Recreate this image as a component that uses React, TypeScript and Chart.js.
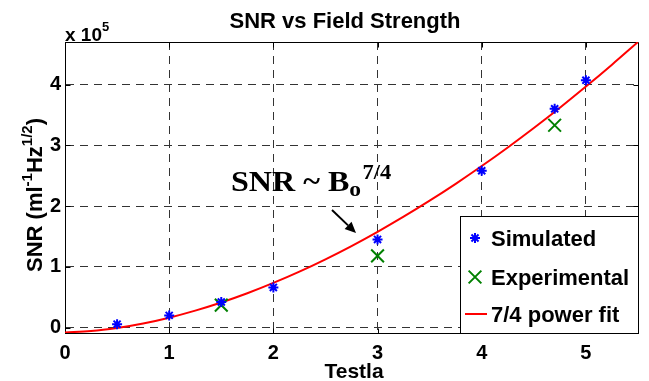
import React, { useEffect, useRef } from "react";
import { Chart, registerables } from "chart.js";

Chart.register(...registerables);

// values in units of 1e5
const simX = [0.5, 1, 1.5, 2, 3, 4, 4.7, 5];
const simY = [0.055, 0.2, 0.42, 0.66, 1.45, 2.58, 3.6, 4.07];
const expX = [1.5, 3, 4.7];
const expY = [0.37, 1.18, 3.33];
const fitX = [0, 0.25, 0.5, 0.75, 1, 1.25, 1.5, 1.75, 2, 2.25, 2.5, 2.75, 3, 3.25, 3.5, 3.75, 4, 4.25, 4.5, 4.75, 5, 5.25, 5.5];
const fitY = [-0.08, -0.059, -0.008, 0.066, 0.162, 0.278, 0.412, 0.564, 0.734, 0.92, 1.123, 1.341, 1.575, 1.824, 2.088, 2.366, 2.658, 2.964, 3.284, 3.618, 3.966, 4.327, 4.7];
const xTicks = [0, 1, 2, 3, 4, 5];
const yTicks = [0, 1, 2, 3, 4];
const seriesNames = ["Simulated", "Experimental", "7/4 power fit"];

const SANS = '"Liberation Sans", Arial, Helvetica, sans-serif';
const SERIF = '"Liberation Serif", "Times New Roman", serif';

type Part = { t: string; font: string; dy: number };

function drawParts(ctx: CanvasRenderingContext2D, parts: Part[], x: number, y: number, align: "left" | "center") {
  let total = 0;
  const widths = parts.map((p) => {
    ctx.font = p.font;
    const w = ctx.measureText(p.t).width;
    total += w;
    return w;
  });
  let cx = align === "center" ? x - total / 2 : x;
  ctx.textAlign = "left";
  ctx.textBaseline = "alphabetic";
  parts.forEach((p, i) => {
    ctx.font = p.font;
    ctx.fillText(p.t, cx, y + p.dy);
    cx += widths[i];
  });
}

function star(ctx: CanvasRenderingContext2D, x: number, y: number, r: number) {
  ctx.beginPath();
  for (let k = 0; k < 4; k++) {
    const a = (k * Math.PI) / 4;
    ctx.moveTo(x - Math.cos(a) * r, y - Math.sin(a) * r);
    ctx.lineTo(x + Math.cos(a) * r, y + Math.sin(a) * r);
  }
  ctx.stroke();
}

function crossRot(ctx: CanvasRenderingContext2D, x: number, y: number, r: number) {
  const d = r * Math.SQRT1_2;
  ctx.beginPath();
  ctx.moveTo(x - d, y - d);
  ctx.lineTo(x + d, y + d);
  ctx.moveTo(x + d, y - d);
  ctx.lineTo(x - d, y + d);
  ctx.stroke();
}

const decor = {
  id: "decor",
  beforeDatasetsDraw(chart: any) {
    const { ctx, chartArea: a, scales } = chart;
    ctx.save();
    ctx.strokeStyle = "#000";
    ctx.lineWidth = 1;
    const top = Math.round(a.top) + 0.5;
    const right = Math.round(a.right) + 0.5;
    const bottom = Math.round(a.bottom) + 0.5;
    const left = Math.round(a.left) + 0.5;
    ctx.beginPath();
    ctx.moveTo(left, top);
    ctx.lineTo(right, top);
    ctx.lineTo(right, bottom);
    ctx.stroke();
    const tl = 5;
    ctx.beginPath();
    xTicks.forEach((v) => {
      const px = Math.round(scales.x.getPixelForValue(v)) + 0.5;
      ctx.moveTo(px, bottom);
      ctx.lineTo(px, bottom - tl);
      ctx.moveTo(px, top);
      ctx.lineTo(px, top + tl);
    });
    yTicks.forEach((v) => {
      const py = Math.round(scales.y.getPixelForValue(v)) + 0.5;
      ctx.moveTo(left, py);
      ctx.lineTo(left + tl, py);
      ctx.moveTo(right, py);
      ctx.lineTo(right - tl, py);
    });
    ctx.stroke();
    ctx.restore();
  },
  afterDraw(chart: any) {
    const { ctx, chartArea: a } = chart;
    ctx.save();
    ctx.fillStyle = "#000";

    // title
    drawParts(ctx, [{ t: "SNR vs Field Strength", font: `bold 22px ${SANS}`, dy: 0 }], 345, 28, "center");

    // exponent label
    drawParts(
      ctx,
      [
        { t: "x 10", font: `bold 19px ${SANS}`, dy: 0 },
        { t: "5", font: `bold 13px ${SANS}`, dy: -10 },
      ],
      65,
      41,
      "left"
    );

    // x axis title
    drawParts(ctx, [{ t: "Testla", font: `bold 21px ${SANS}`, dy: 0 }], 354, 378, "center");

    // y axis title
    ctx.save();
    ctx.translate(42, 195);
    ctx.rotate(-Math.PI / 2);
    drawParts(
      ctx,
      [
        { t: "SNR (ml", font: `bold 22px ${SANS}`, dy: 0 },
        { t: "-1", font: `bold 15px ${SANS}`, dy: -10 },
        { t: "Hz", font: `bold 22px ${SANS}`, dy: 0 },
        { t: "1/2", font: `bold 15px ${SANS}`, dy: -10 },
        { t: ")", font: `bold 22px ${SANS}`, dy: 0 },
      ],
      0,
      0,
      "center"
    );
    ctx.restore();

    // annotation (slightly wide serif lettering)
    ctx.save();
    ctx.translate(231, 191);
    ctx.scale(1.07, 1);
    drawParts(
      ctx,
      [
        { t: "SNR ~ B", font: `bold 30px ${SERIF}`, dy: 0 },
        { t: "o", font: `bold 22px ${SERIF}`, dy: 5 },
        { t: " ", font: `bold 5px ${SERIF}`, dy: 0 },
        { t: "7/4", font: `bold 21px ${SERIF}`, dy: -12 },
      ],
      0,
      0,
      "left"
    );
    ctx.restore();

    // arrow
    const x1 = 332, y1 = 210, x2 = 356, y2 = 233;
    ctx.strokeStyle = "#000";
    ctx.lineWidth = 2;
    const ang = Math.atan2(y2 - y1, x2 - x1);
    const hl = 11, hw = 5;
    const bx = x2 - Math.cos(ang) * hl, by = y2 - Math.sin(ang) * hl;
    ctx.beginPath();
    ctx.moveTo(x1, y1);
    ctx.lineTo(bx, by);
    ctx.stroke();
    ctx.beginPath();
    ctx.moveTo(x2, y2);
    ctx.lineTo(bx + Math.sin(ang) * hw, by - Math.cos(ang) * hw);
    ctx.lineTo(bx - Math.sin(ang) * hw, by + Math.cos(ang) * hw);
    ctx.closePath();
    ctx.fill();

    // legend
    const lx = 460.5, ly = 216.5, lr = Math.round(a.right) + 0.5, lb = Math.round(a.bottom) + 0.5;
    ctx.fillStyle = "#fff";
    ctx.fillRect(lx, ly, lr - lx, lb - ly);
    ctx.strokeStyle = "#000";
    ctx.lineWidth = 1;
    ctx.strokeRect(lx, ly, lr - lx, lb - ly);

    const rows = [238, 277, 314];
    ctx.lineWidth = 2;
    ctx.strokeStyle = "#0000ff";
    star(ctx, 475, rows[0], 5);
    ctx.strokeStyle = "#008000";
    crossRot(ctx, 475, rows[1], 9);
    ctx.strokeStyle = "#ff0000";
    ctx.beginPath();
    ctx.moveTo(465, rows[2]);
    ctx.lineTo(487, rows[2]);
    ctx.stroke();

    ctx.fillStyle = "#000";
    seriesNames.forEach((n, i) => {
      drawParts(ctx, [{ t: n, font: `bold 22px ${SANS}`, dy: 0 }], 491, rows[i] + 8, "left");
    });

    ctx.restore();
  },
};

export default function App() {
  const ref = useRef<HTMLCanvasElement>(null);
  useEffect(() => {
    document.body.style.margin = "0";
    const tickFont = { family: SANS, size: 20, weight: "bold" as const };
    const chart = new Chart(ref.current!, {
      type: "scatter",
      data: {
        datasets: [
          {
            label: seriesNames[0],
            data: simX.map((x, i) => ({ x, y: simY[i] })),
            pointStyle: "star",
            pointRadius: 5,
            borderColor: "#0000ff",
            backgroundColor: "#0000ff",
            pointBorderWidth: 2,
            showLine: false,
          },
          {
            label: seriesNames[1],
            data: expX.map((x, i) => ({ x, y: expY[i] })),
            pointStyle: "crossRot",
            pointRadius: 9,
            borderColor: "#008000",
            backgroundColor: "#008000",
            pointBorderWidth: 2,
            showLine: false,
          },
          {
            label: seriesNames[2],
            data: fitX.map((x, i) => ({ x, y: fitY[i] })),
            showLine: true,
            pointRadius: 0,
            borderColor: "#ff0000",
            borderWidth: 2,
            cubicInterpolationMode: "monotone",
          },
        ],
      },
      options: {
        responsive: false,
        animation: false,
        events: [],
        layout: { padding: { top: 42, right: 9, left: 0, bottom: 0 } },
        plugins: { legend: { display: false }, tooltip: { enabled: false }, title: { display: false } },
        scales: {
          x: {
            type: "linear",
            min: 0,
            max: 5.5,
            afterBuildTicks: (s: any) => {
              s.ticks = xTicks.map((v) => ({ value: v }));
            },
            afterFit: (s: any) => {
              s.height = 48;
            },
            grid: { color: "#333", lineWidth: 1, drawTicks: false },
            border: { display: true, color: "#000", width: 1, dash: [8, 6] },
            ticks: { font: tickFont, color: "#000", padding: 8, maxRotation: 0, autoSkip: false },
          },
          y: {
            type: "linear",
            min: -0.09,
            max: 4.7,
            afterBuildTicks: (s: any) => {
              s.ticks = yTicks.map((v) => ({ value: v }));
            },
            afterFit: (s: any) => {
              s.width = 65;
            },
            grid: { color: "#333", lineWidth: 1, drawTicks: false },
            border: { display: true, color: "#000", width: 1, dash: [8, 6] },
            ticks: { font: tickFont, color: "#000", padding: 4, autoSkip: false },
          },
        },
      },
      plugins: [decor],
    });
    return () => chart.destroy();
  }, []);
  return <canvas ref={ref} width={649} height={381} style={{ display: "block" }} />;
}
